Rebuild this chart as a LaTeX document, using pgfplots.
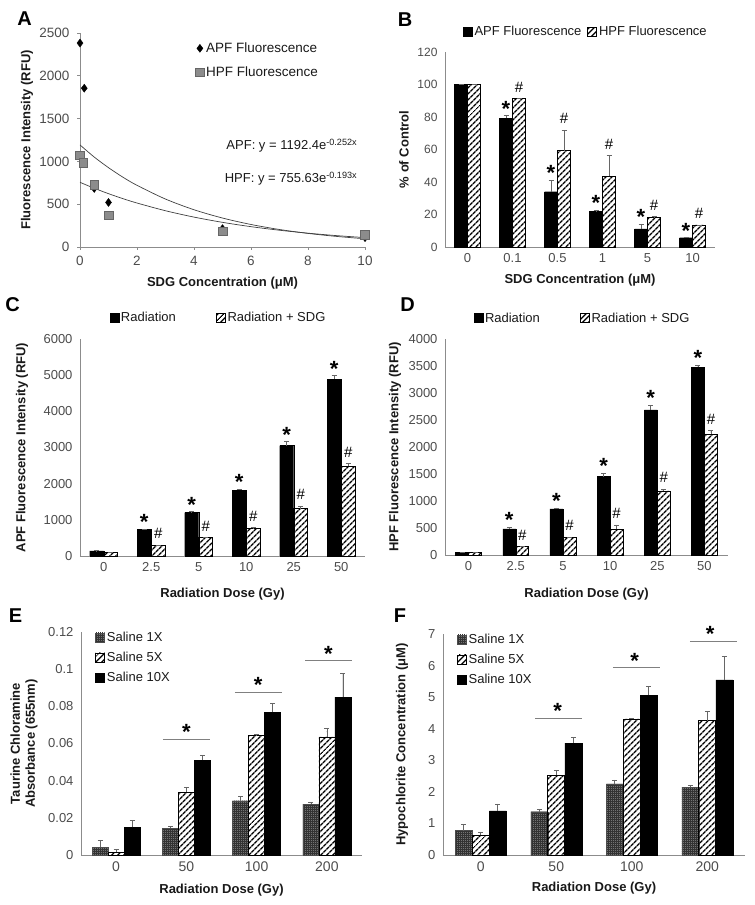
\documentclass[border=0pt]{standalone}
\usepackage{fontspec}
\setmainfont{Liberation Sans}
\usepackage{pgfplots}
\pgfplotsset{compat=1.18}
\usetikzlibrary{patterns.meta}

\tikzset{
  solidbar/.style={fill=black, draw=black, line width=0.4pt},
  hatchbar/.style={draw=black, line width=0.6pt, pattern={Lines[angle=45,distance=4pt,line width=1.5pt]}, pattern color=black},
  gridbar/.style={draw=black!70, line width=0.4pt, fill=black!55, postaction={pattern={Hatch[distance=2pt,line width=0.35pt]}, pattern color=black!80}},
  star/.style={anchor=north, inner sep=0pt, font=\bfseries\fontsize{22}{22}\selectfont, yshift=15pt},
  hsh/.style={anchor=center, inner sep=0pt, font=\fontsize{15}{15}\selectfont, yshift=11.5pt},
  plet/.style={font=\bfseries\fontsize{20}{20}\selectfont, inner sep=0pt},
  sigline/.style={draw=black!50, line width=0.8pt},
}

\pgfplotsset{
  panel/.style={scale only axis, anchor=south west, clip=false,
    axis lines=left, axis line style={-, draw=black!45, line width=0.8pt},
    major tick length=0pt,
    tick label style={text=black!70},
    xticklabel style={font=\fontsize{13}{15}\selectfont, yshift=-3pt},
    yticklabel style={font=\fontsize{12}{14}\selectfont, xshift=-4pt},
    label style={font=\bfseries\fontsize{13}{15}\selectfont, text=black!90},
    /pgf/number format/assume math mode=true,
    /pgf/number format/1000 sep={},
    legend style={draw=none, fill=none, font=\fontsize{13}{15}\selectfont, text=black!90, inner sep=0pt},
    legend cell align=left,
  },
  barpanel/.style={panel, ybar=0pt, bar width=#1,
    legend image code/.code={\draw[##1] (0pt,-4.5pt) rectangle (9pt,4.5pt);},
    error bars/y dir=plus, error bars/y explicit,
    error bars/error bar style={draw=black!60, line width=0.7pt},
    error bars/error mark options={rotate=90, mark size=2.5pt, draw=black!60, line width=0.7pt},
  },
}

\begin{document}
\begin{tikzpicture}[x=1pt,y=1pt]
\useasboundingbox (0,0) rectangle (755,905);

% ---------------- Panel A ----------------
\begin{axis}[panel, at={(80pt,658pt)}, width=285pt, height=214pt,
  xmin=0, xmax=10, ymin=0, ymax=2500,
  xtick={0,2,...,10}, ytick={0,500,...,2500},
  major tick length=3pt, tick align=outside, tick style={draw=black!45, line width=0.6pt},
  xticklabel style={font=\fontsize{13.5}{15}\selectfont},
  yticklabel style={font=\fontsize{13.5}{15}\selectfont},
  xlabel={SDG Concentration (μM)}, ylabel={Fluorescence Intensity (RFU)},
  xlabel style={at={([yshift=-36pt]axis description cs:0.5,0)}, anchor=center},
  ylabel style={at={([xshift=-53pt]axis description cs:0,0.5)}, anchor=center},
  legend style={at={(0.405,0.965)}, anchor=north west, row sep=8.5pt, font=\fontsize{13.5}{15}\selectfont},
  legend image code/.code={\draw[#1] plot coordinates {(5pt,0pt)};},
]
\addplot[black!75, line width=0.7pt, smooth, forget plot] coordinates {
 (0,1192.4) (0.5,1050.6) (1,926.8) (1.5,816.6) (2,720.4) (3,559.9) (4,435.2) (5,338.3) (6,262.9) (7,204.4) (8,158.8) (9,123.5) (10,96.0)};
\addplot[black!75, line width=0.7pt, smooth, forget plot] coordinates {
 (0,755.6) (0.5,686.1) (1,623.0) (1.5,565.6) (2,513.7) (3,423.5) (4,349.2) (5,287.9) (6,237.4) (7,195.7) (8,161.4) (9,133.0) (10,109.7)};
\addplot[only marks, mark=diamond*, mark size=4pt, mark options={fill=black, draw=black}] coordinates {
 (0,2383) (0.15,1855) (0.5,684) (1,520) (5,215) (10,109)};
\addplot[only marks, mark=square*, mark size=4.3pt, mark options={fill=black!45, draw=black!60, line width=0.5pt}] coordinates {
 (0,1074) (0.12,984) (0.5,730) (1,371) (5,184) (10,145)};
\legend{APF Fluorescence, HPF Fluorescence}
\node[anchor=east, font=\fontsize{13}{15}\selectfont, text=black!90] at (axis cs:9.85,1185) {APF: y = 1192.4e\textsuperscript{-0.252x}};
\node[anchor=east, font=\fontsize{13}{15}\selectfont, text=black!90] at (axis cs:9.85,800) {HPF: y = 755.63e\textsuperscript{-0.193x}};
\end{axis}

% ---------------- Panel B ----------------
\begin{axis}[barpanel=13pt, at={(445pt,658pt)}, width=270pt, height=195pt,
  xmin=-0.5, xmax=5.5, ymin=0, ymax=120, ytick={0,20,...,120},
  xtick={0,...,5}, xticklabels={0,0.1,0.5,1,5,10},
  xlabel={SDG Concentration (μM)}, ylabel={\% of Control},
  xlabel style={at={([yshift=-33pt]axis description cs:0.5,0)}, anchor=center},
  ylabel style={at={([xshift=-41pt]axis description cs:0,0.5)}, anchor=center},
  legend columns=2,
  legend style={at={(0.522,1.103)}, anchor=center, /tikz/every even column/.append style={column sep=4pt}},
]
\addplot[solidbar] coordinates {
 (0,100) +- (0,0) (1,79.2) +- (0,1.6) (2,34) +- (0,7) (3,22) +- (0,0.4) (4,11.2) +- (0,3) (5,5.7) +- (0,0)};
\addplot[hatchbar] coordinates {
 (0,100) +- (0,0) (1,91.3) +- (0,0) (2,59.2) +- (0,12.8) (3,43.5) +- (0,12.8) (4,18) +- (0,0.8) (5,13.6) +- (0,0)};
\legend{APF Fluorescence, HPF Fluorescence}
\node[star, xshift=-6.5pt] at (axis cs:1,80.8) {*};
\node[star, xshift=-6.5pt] at (axis cs:2,41) {*};
\node[star, xshift=-6.5pt] at (axis cs:3,22.4) {*};
\node[star, xshift=-6.5pt] at (axis cs:4,14.2) {*};
\node[star, xshift=-6.5pt] at (axis cs:5,5.7) {*};
\node[hsh, xshift=6.5pt] at (axis cs:1,91.3) {\#};
\node[hsh, xshift=6.5pt] at (axis cs:2,72) {\#};
\node[hsh, xshift=6.5pt] at (axis cs:3,56.3) {\#};
\node[hsh, xshift=6.5pt] at (axis cs:4,18.8) {\#};
\node[hsh, xshift=6.5pt] at (axis cs:5,13.6) {\#};
\end{axis}

% ---------------- Panel C ----------------
\begin{axis}[barpanel=14pt, at={(80pt,349pt)}, width=285pt, height=217pt,
  xmin=-0.5, xmax=5.5, ymin=0, ymax=6000, ytick={0,1000,...,6000},
  xtick={0,...,5}, xticklabels={0,2.5,5,10,25,50},
  xlabel={Radiation Dose (Gy)}, ylabel={APF Fluorescence Intensity (RFU)},
  xlabel style={at={([yshift=-38pt]axis description cs:0.5,0)}, anchor=center},
  ylabel style={at={([xshift=-58pt]axis description cs:0,0.5)}, anchor=center},
  yticklabel style={font=\fontsize{13}{15}\selectfont},
  legend columns=2,
  legend style={at={(0.486,1.097)}, anchor=center, /tikz/every even column/.append style={column sep=38pt}},
]
\addplot[solidbar] coordinates {
 (0,139) +- (0,12) (1,730) +- (0,20) (2,1202) +- (0,20) (3,1821) +- (0,30) (4,3051) +- (0,110) (5,4890) +- (0,92)};
\addplot[hatchbar] coordinates {
 (0,92) +- (0,0) (1,296) +- (0,0) (2,508) +- (0,0) (3,758) +- (0,28) (4,1313) +- (0,64) (5,2487) +- (0,74)};
\legend{Radiation, Radiation + SDG}
\node[star, xshift=-7pt] at (axis cs:1,750) {*};
\node[star, xshift=-7pt] at (axis cs:2,1222) {*};
\node[star, xshift=-7pt] at (axis cs:3,1851) {*};
\node[star, xshift=-7pt] at (axis cs:4,3161) {*};
\node[star, xshift=-7pt] at (axis cs:5,4982) {*};
\node[hsh, xshift=7pt] at (axis cs:1,296) {\#};
\node[hsh, xshift=7pt] at (axis cs:2,508) {\#};
\node[hsh, xshift=7pt] at (axis cs:3,786) {\#};
\node[hsh, xshift=7pt] at (axis cs:4,1377) {\#};
\node[hsh, xshift=7pt] at (axis cs:5,2561) {\#};
\end{axis}

% ---------------- Panel D ----------------
\begin{axis}[barpanel=13pt, at={(445pt,350pt)}, width=283pt, height=216pt,
  xmin=-0.5, xmax=5.5, ymin=0, ymax=4000, ytick={0,500,...,4000},
  xtick={0,...,5}, xticklabels={0,2.5,5,10,25,50},
  xlabel={Radiation Dose (Gy)}, ylabel={HPF Fluorescence Intensity (RFU)},
  xlabel style={at={([yshift=-39pt]axis description cs:0.5,0)}, anchor=center},
  ylabel style={at={([xshift=-50pt]axis description cs:0,0.5)}, anchor=center},
  yticklabel style={font=\fontsize{13}{15}\selectfont},
  legend columns=2,
  legend style={at={(0.486,1.097)}, anchor=center, /tikz/every even column/.append style={column sep=38pt}},
]
\addplot[solidbar] coordinates {
 (0,49) +- (0,0) (1,482) +- (0,31) (2,853) +- (0,19) (3,1453) +- (0,62) (4,2689) +- (0,87) (5,3475) +- (0,37)};
\addplot[hatchbar] coordinates {
 (0,49) +- (0,0) (1,155) +- (0,0) (2,328) +- (0,0) (3,476) +- (0,80) (4,1187) +- (0,31) (5,2238) +- (0,68)};
\legend{Radiation, Radiation + SDG}
\node[star, xshift=-6.5pt] at (axis cs:1,513) {*};
\node[star, xshift=-6.5pt] at (axis cs:2,872) {*};
\node[star, xshift=-6.5pt] at (axis cs:3,1515) {*};
\node[star, xshift=-6.5pt] at (axis cs:4,2776) {*};
\node[star, xshift=-6.5pt] at (axis cs:5,3512) {*};
\node[hsh, xshift=6.5pt] at (axis cs:1,155) {\#};
\node[hsh, xshift=6.5pt] at (axis cs:2,328) {\#};
\node[hsh, xshift=6.5pt] at (axis cs:3,556) {\#};
\node[hsh, xshift=6.5pt] at (axis cs:4,1218) {\#};
\node[hsh, xshift=6.5pt] at (axis cs:5,2306) {\#};
\end{axis}

% ---------------- Panel E ----------------
\begin{axis}[barpanel=16pt, at={(81pt,50pt)}, width=281pt, height=223pt,
  xmin=-0.5, xmax=3.5, ymin=0, ymax=0.12, ytick={0,0.02,...,0.12},
  yticklabels={0,0.02,0.04,0.06,0.08,0.1,0.12},
  xtick={0,...,3}, xticklabels={0,50,100,200},
  xticklabel style={font=\fontsize{14}{15}\selectfont},
  yticklabel style={font=\fontsize{13}{15}\selectfont},
  xlabel={Radiation Dose (Gy)}, ylabel={Taurine Chloramine\\Absorbance (655nm)},
  xlabel style={at={([yshift=-35pt]axis description cs:0.5,0)}, anchor=center},
  ylabel style={at={([xshift=-57pt]axis description cs:0,0.5)}, anchor=center, align=center},
  legend style={at={(0.05,1.01)}, anchor=north west, row sep=5pt},
]
\addplot[gridbar] coordinates {
 (0,0.0041) +- (0,0.0038) (1,0.0143) +- (0,0.0009) (2,0.0292) +- (0,0.0023) (3,0.0274) +- (0,0.0012)};
\addplot[hatchbar] coordinates {
 (0,0.0016) +- (0,0.0016) (1,0.0338) +- (0,0.0027) (2,0.0642) +- (0,0.0005) (3,0.0635) +- (0,0.0047)};
\addplot[solidbar] coordinates {
 (0,0.0148) +- (0,0.0036) (1,0.0510) +- (0,0.0027) (2,0.0767) +- (0,0.0049) (3,0.0850) +- (0,0.0127)};
\legend{Saline 1X, Saline 5X, Saline 10X}
\draw[sigline] (axis cs:0.665,0.0623) -- (axis cs:1.335,0.0623);
\draw[sigline] (axis cs:1.69,0.0875) -- (axis cs:2.36,0.0875);
\draw[sigline] (axis cs:2.69,0.1045) -- (axis cs:3.36,0.1045);
\node[star] at (axis cs:1.0,0.0623) {*};
\node[star] at (axis cs:2.02,0.0875) {*};
\node[star] at (axis cs:3.02,0.1045) {*};
\end{axis}

% ---------------- Panel F ----------------
\begin{axis}[barpanel=17pt, at={(443pt,50pt)}, width=302pt, height=221pt,
  xmin=-0.5, xmax=3.5, ymin=0, ymax=7, ytick={0,1,...,7},
  xtick={0,...,3}, xticklabels={0,50,100,200},
  xticklabel style={font=\fontsize{14}{15}\selectfont},
  yticklabel style={font=\fontsize{13}{15}\selectfont},
  xlabel={Radiation Dose (Gy)}, ylabel={Hypochlorite Concentration (μM)},
  xlabel style={at={([yshift=-33pt]axis description cs:0.5,0)}, anchor=center},
  ylabel style={at={([xshift=-41pt]axis description cs:0,0.5)}, anchor=center},
  legend style={at={(0.046,1.01)}, anchor=north west, row sep=5pt},
]
\addplot[gridbar] coordinates {
 (0,0.77) +- (0,0.21) (1,1.37) +- (0,0.07) (2,2.25) +- (0,0.13) (3,2.14) +- (0,0.07)};
\addplot[hatchbar] coordinates {
 (0,0.63) +- (0,0.10) (1,2.53) +- (0,0.15) (2,4.31) +- (0,0.02) (3,4.26) +- (0,0.29)};
\addplot[solidbar] coordinates {
 (0,1.40) +- (0,0.22) (1,3.54) +- (0,0.18) (2,5.06) +- (0,0.29) (3,5.55) +- (0,0.75)};
\legend{Saline 1X, Saline 5X, Saline 10X}
\draw[sigline] (axis cs:0.72,4.32) -- (axis cs:1.34,4.32);
\draw[sigline] (axis cs:1.75,5.93) -- (axis cs:2.37,5.93);
\draw[sigline] (axis cs:2.77,6.77) -- (axis cs:3.39,6.77);
\node[star] at (axis cs:1.02,4.32) {*};
\node[star] at (axis cs:2.04,5.93) {*};
\node[star] at (axis cs:3.04,6.77) {*};
\end{axis}

% panel letters
\node[plet] at (24.5,886.5) {A};
\node[plet] at (405,885.5) {B};
\node[plet] at (12.5,600.5) {C};
\node[plet] at (407.5,600.5) {D};
\node[plet] at (15.5,289.5) {E};
\node[plet] at (400,289.5) {F};
\end{tikzpicture}
\end{document}
